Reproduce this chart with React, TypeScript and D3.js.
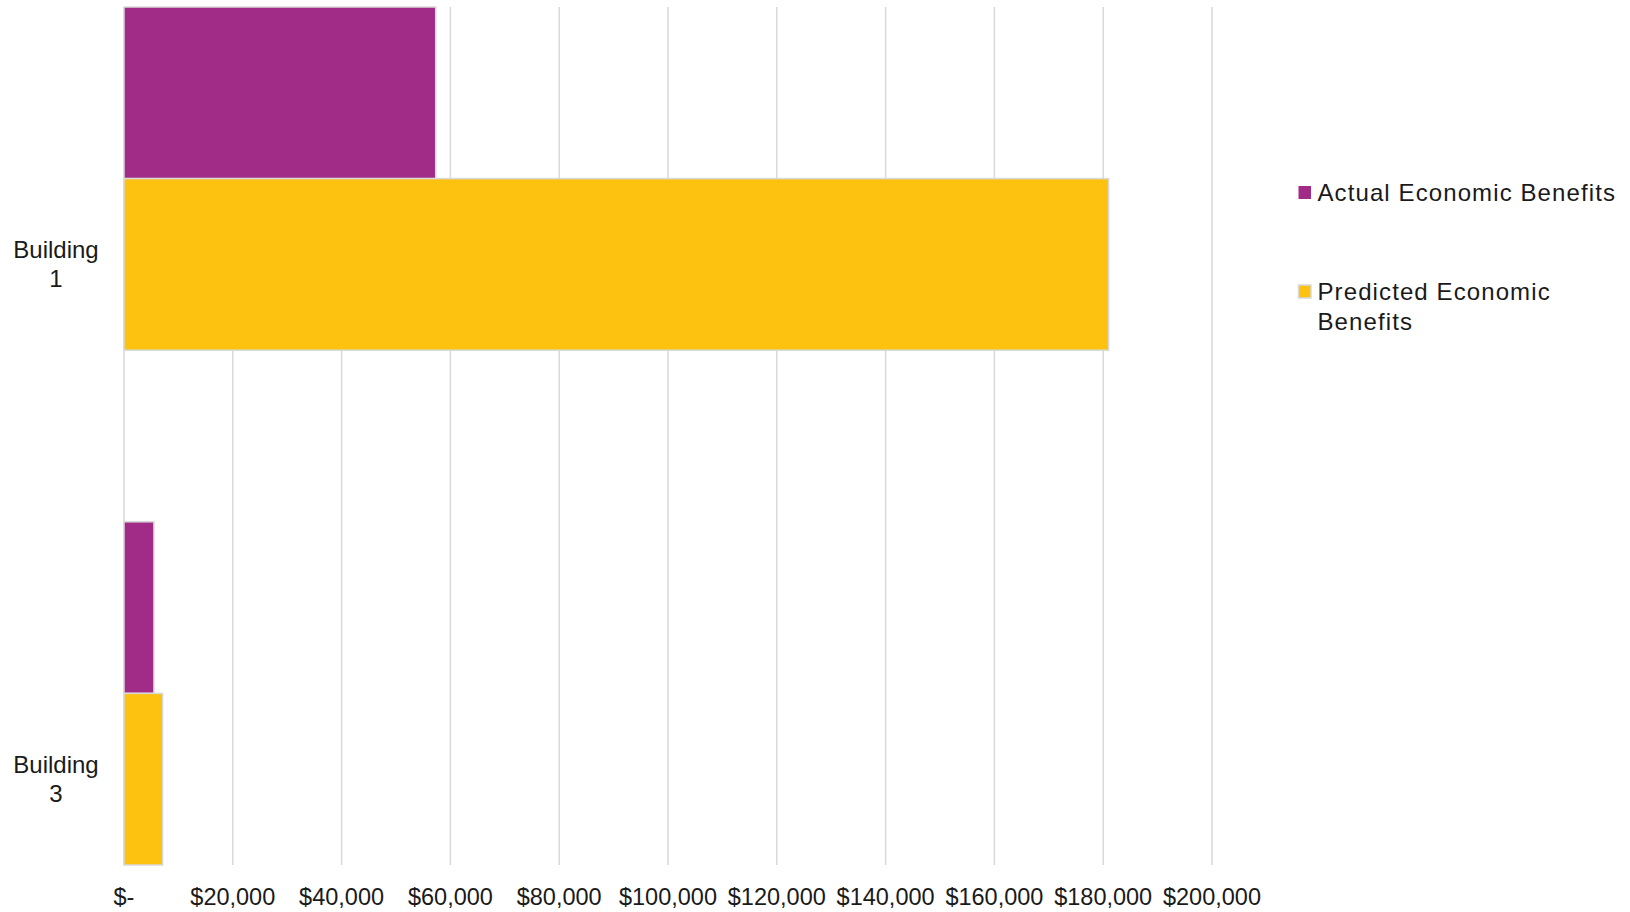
import React from "react";
import * as d3 from "d3";

const categories = ["Building 1", "Building 3"];
const categoryLines = [["Building", "1"], ["Building", "3"]];
const seriesNames = ["Actual Economic Benefits", "Predicted Economic Benefits"];
const legendLines = [["Actual Economic Benefits"], ["Predicted Economic", "Benefits"]];
const seriesColors = ["#A12C87", "#FDC110"];
const actualValues = [57300, 5500];
const predictedValues = [181000, 7100];
const tickValues = [0, 20000, 40000, 60000, 80000, 100000, 120000, 140000, 160000, 180000, 200000];
const tickLabels = ["$-", "$20,000", "$40,000", "$60,000", "$80,000", "$100,000", "$120,000", "$140,000", "$160,000", "$180,000", "$200,000"];

const W = 1630;
const H = 912;
const plotLeft = 124;
const plotRight = 1212;
const plotTop = 7;
const plotBottom = 865;
const FONT = "'Liberation Sans', Arial, sans-serif";

export default function App() {
  const x = d3.scaleLinear().domain([0, 200000]).range([plotLeft, plotRight]);
  const slot = (plotBottom - plotTop) / 5;
  const yCat = d3.scaleBand<string>().domain(categories).range([plotTop, plotBottom + slot]).padding(0);
  const ySer = d3.scaleBand<string>().domain(seriesNames).range([0, (yCat.bandwidth() * 2) / 3]).padding(0);
  const values = [actualValues, predictedValues];

  return (
    <svg width={W} height={H} style={{ position: "absolute", left: 0, top: 0, background: "#fff" }} fontFamily={FONT}>
      {/* gridlines */}
      {tickValues.map((t) => (
        <line key={"g" + t} x1={x(t)} x2={x(t)} y1={plotTop} y2={plotBottom} stroke="#d9d9d9" strokeWidth={1.5} />
      ))}
      {/* bars */}
      {categories.map((c, ci) =>
        seriesNames.map((s, si) => {
          const y0 = (yCat(c) ?? 0) + (ySer(s) ?? 0);
          return (
            <rect
              key={c + s}
              x={x(0)}
              y={y0}
              width={x(values[si][ci]) - x(0)}
              height={ySer.bandwidth()}
              fill={seriesColors[si]}
              stroke="#d9d9d9"
              strokeWidth={1.5}
            />
          );
        })
      )}
      {/* tick labels */}
      {tickValues.map((t, i) => (
        <text key={"t" + t} x={x(t)} y={905} textAnchor="middle" fontSize={23.5} fill="#1a1a1a">
          {tickLabels[i]}
        </text>
      ))}
      {/* category labels */}
      {categories.map((c, ci) => {
        const cy = (yCat(c) ?? 0) + yCat.bandwidth() / 2;
        return (
          <text key={"c" + c} x={56} textAnchor="middle" fontSize={24} fill="#1a1a1a">
            {categoryLines[ci].map((ln, li) => (
              <tspan key={li} x={56} y={cy - 6 + li * 28.5}>
                {ln}
              </tspan>
            ))}
          </text>
        );
      })}
      {/* legend */}
      {seriesNames.map((s, si) => {
        const top = [186, 285][si];
        return (
          <g key={"l" + s}>
            <rect x={1298.5} y={top} width={12.5} height={13} fill={seriesColors[si]} stroke={si === 1 ? "#d9d9d9" : "none"} strokeWidth={1.5} />
            <text fontSize={24} fill="#1a1a1a" letterSpacing={1.1}>
              {legendLines[si].map((ln, li) => (
                <tspan key={li} x={1317.5} y={top + 14.5 + li * 30}>
                  {ln}
                </tspan>
              ))}
            </text>
          </g>
        );
      })}
    </svg>
  );
}
